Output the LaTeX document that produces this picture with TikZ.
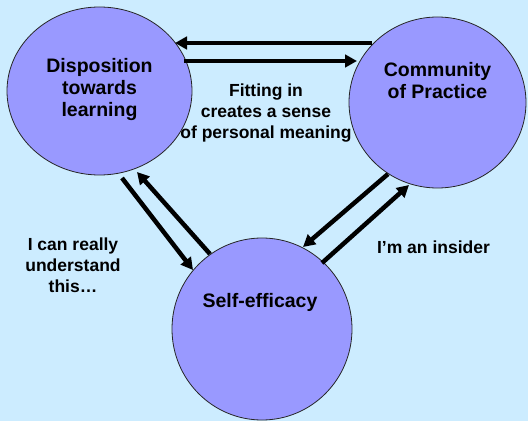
\documentclass[tikz,border=0pt]{standalone}
\usepackage{fontspec}
\setmainfont{Liberation Sans}
\usetikzlibrary{shapes.geometric,arrows.meta,calc}
\definecolor{bgblue}{HTML}{CCECFF}
\definecolor{bubble}{HTML}{9999FF}
\begin{document}
\begin{tikzpicture}[x=1pt,y=1pt,
  bubblestyle/.style={ellipse,draw=black!85,line width=0.8pt,fill=bubble,inner sep=0pt},
  bubbletext/.style={font=\fontsize{19.5}{22}\selectfont\bfseries,align=center},
  lbl/.style={font=\fontsize{17.5}{21.2}\selectfont\bfseries,align=center,inner sep=0pt},
  arr/.style={line width=4.5pt,-{Triangle[length=12pt,width=12.5pt]}}]
\fill[bgblue] (0,0) rectangle (528,421);
\useasboundingbox (0,0) rectangle (528,421);
\node[bubblestyle,minimum width=185pt,minimum height=168pt,
  label={[bubbletext,yshift=1pt]center:Disposition\\towards\\learning}] (d) at (99.5,330) {};
\node[bubblestyle,minimum width=177pt,minimum height=171pt,
  label={[bubbletext,yshift=22pt]center:Community\\of Practice}] (c) at (437.5,318.5) {};
\node[bubblestyle,minimum width=180pt,minimum height=182pt,
  label={[bubbletext,yshift=27pt,xshift=-2pt]center:Self-efficacy}] (s) at (262,92) {};
\node[lbl] (fit) at (266,308) {Fitting in\\creates a sense\\of personal meaning};
\node[lbl] (can) at (73,156) {I can really\\understand\\this…};
\node[lbl] (ins) at (433.5,174) {I’m an insider};
\draw[arr] ($(c.center)+(-65.5,59.5)$) -- ($(d.center)+(75.5,48)$);
\draw[arr] ($(d.center)+(84.5,30)$) -- ($(c.center)+(-80.5,41.5)$);
\draw[arr] ($(d.center)+(22.5,-87)$) -- ($(s.center)+(-69,59)$);
\draw[arr] ($(s.center)+(-52,75)$) -- ($(d.center)+(37.5,-81)$);
\draw[arr] ($(c.center)+(-49.5,-71.5)$) -- ($(s.center)+(41,82)$);
\draw[arr] ($(s.center)+(60,66)$) -- ($(c.center)+(-28.5,-82.5)$);
\end{tikzpicture}
\end{document}
